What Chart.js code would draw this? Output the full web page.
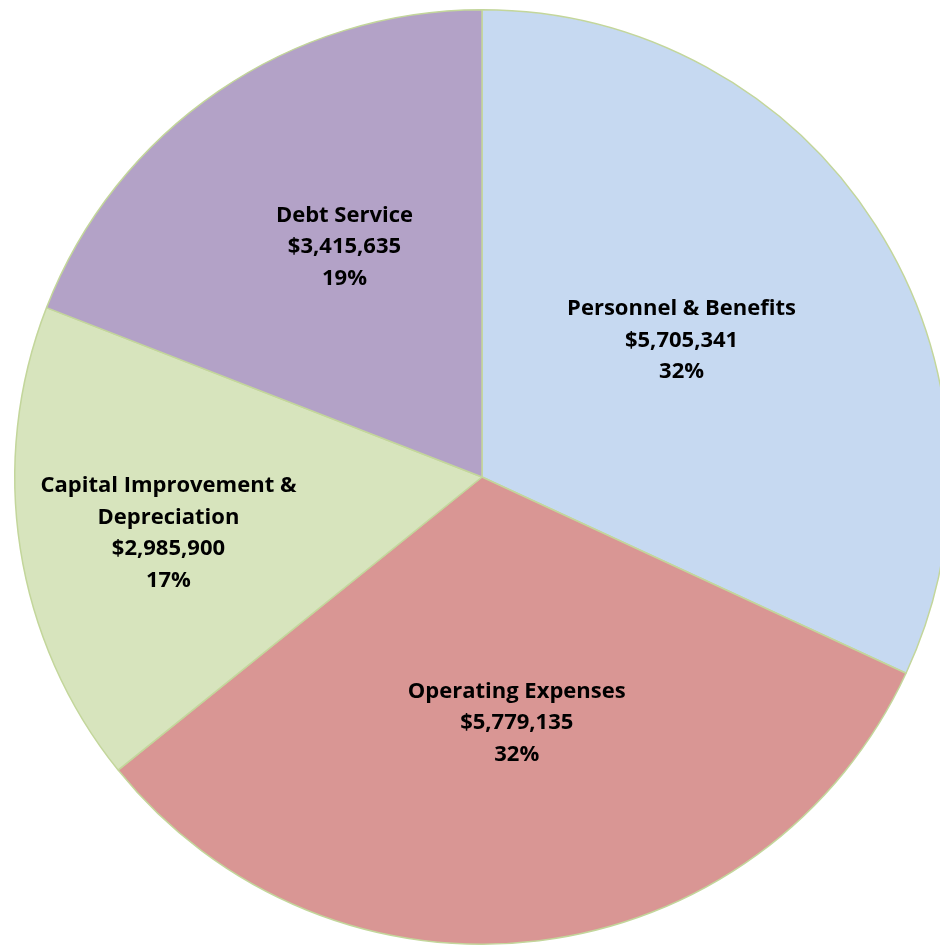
<!DOCTYPE html>
<html>
<head>
<meta charset="utf-8">
<script src="https://cdn.jsdelivr.net/npm/chart.js@4/dist/chart.umd.min.js"></script>
<style>
  html, body { margin: 0; padding: 0; background: #ffffff; overflow: hidden; width: 940px; height: 946px; }
  #wrap { position: absolute; left: 0; top: 0; width: 952px; height: 946px; }
</style>
</head>
<body>
<div id="wrap"><canvas id="c" width="952" height="946"></canvas></div>
<script>
const categories = ['Personnel & Benefits', 'Operating Expenses', ['Capital Improvement &', 'Depreciation'], 'Debt Service'];
const amounts = [5705341, 5779135, 2985900, 3415635];
const sliceColors = ['#C6D9F1', '#D99694', '#D7E4BD', '#B3A2C7'];

// label placement: fraction of radius and angular tweak (degrees) relative to slice mid-angle
const labelRadius = [0.52, 0.527, 0.681, 0.577];
const labelTweak = [-2.2, -1.1, -1.0, 3.7];

const total = amounts.reduce((a, b) => a + b, 0);
const fmtMoney = v => '$' + v.toLocaleString('en-US');

const labelPlugin = {
  id: 'sliceLabels',
  afterDatasetsDraw(chart) {
    const ctx = chart.ctx;
    const meta = chart.getDatasetMeta(0);
    ctx.save();
    ctx.font = 'bold 22px "Open Sans", Lato, sans-serif';
    ctx.fillStyle = '#000000';
    ctx.textAlign = 'center';
    ctx.textBaseline = 'middle';
    const lineH = 31.5;
    meta.data.forEach((arc, i) => {
      const p = arc.getProps(['x', 'y', 'startAngle', 'endAngle', 'outerRadius'], true);
      const mid = (p.startAngle + p.endAngle) / 2 + labelTweak[i] * Math.PI / 180;
      const r = p.outerRadius * labelRadius[i];
      const cx = p.x + Math.cos(mid) * r;
      const cy = p.y + Math.sin(mid) * r + 2;
      const cat = categories[i];
      const lines = (Array.isArray(cat) ? cat.slice() : [cat]);
      lines.push(fmtMoney(amounts[i]));
      lines.push(Math.round(amounts[i] / total * 100) + '%');
      const startY = cy - (lines.length - 1) * lineH / 2;
      lines.forEach((t, k) => ctx.fillText(t, cx, startY + k * lineH));
    });
    ctx.restore();
  }
};

new Chart(document.getElementById('c'), {
  type: 'pie',
  data: {
    labels: categories,
    datasets: [{
      data: amounts,
      backgroundColor: sliceColors,
      borderColor: '#C3D69B',
      borderWidth: 1.5
    }]
  },
  options: {
    responsive: false,
    animation: false,
    layout: { padding: { left: 14, top: 9, right: 2, bottom: 1 } },
    plugins: { legend: { display: false }, tooltip: { enabled: false } }
  },
  plugins: [labelPlugin]
});
</script>
</body>
</html>
